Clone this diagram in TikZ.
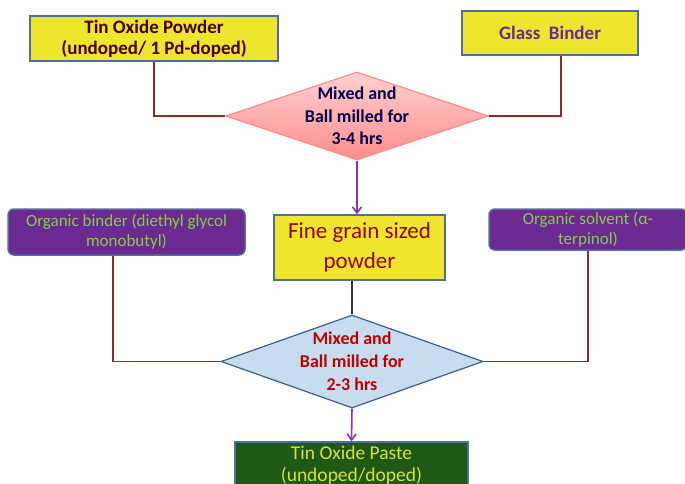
\documentclass[tikz,border=0pt]{standalone}
\usepackage{fontspec}
\setmainfont{Carlito}
\usetikzlibrary{shapes.geometric,arrows.meta}

\definecolor{boxyellow}{HTML}{EEE62C}
\definecolor{boxedge}{HTML}{4F6E9E}
\definecolor{linkred}{HTML}{8E2C2C}
\definecolor{arrowpurple}{HTML}{8A30C4}
\definecolor{orgpurple}{HTML}{6A2A92}
\definecolor{orggreen}{HTML}{86CC4C}
\definecolor{pastegreen}{HTML}{1E5A16}
\definecolor{pasteyellow}{HTML}{D8E040}
\definecolor{mixblue}{HTML}{C8DCF0}
\definecolor{mixblueedge}{HTML}{3C5F8E}

\tikzset{
  startbox/.style={draw=boxedge, line width=1.5pt, fill=boxyellow, rectangle, inner sep=0pt},
  orgbox/.style={draw=boxedge, line width=1.5pt, fill=orgpurple, rectangle, rounded corners=6pt,
    inner sep=0pt, text=orggreen, align=center, font=\fontsize{17}{20}\selectfont},
  millbox/.style={diamond, inner sep=0pt, line width=1.2pt},
  link/.style={draw=linkred, line width=1.6pt},
  flow/.style={draw=arrowpurple, line width=1.6pt, ->}
}

\begin{document}
\begin{tikzpicture}[x=1pt, y=-1pt, >={Straight Barb[length=6pt, width=9pt]}]
\clip (0,0) rectangle (685,484);

\node(Tin)[startbox, minimum width=248pt, minimum height=45pt, text=black!60!red!70!black,
  align=center, font=\bfseries\fontsize{19}{21}\selectfont] at (154,38.5)
  {Tin Oxide Powder\\(undoped/ 1 Pd-doped)};
\node(Glass)[startbox, minimum width=176pt, minimum height=44pt, text=orgpurple,
  font=\bfseries\fontsize{19}{20}\selectfont] at (550,33) {Glass\ \ Binder};

\node(MixA)[millbox, draw=red!45, top color=red!18, bottom color=red!45,
  minimum width=263pt, minimum height=88pt] at (357,116) {};
\node(MixAtxt)[align=center, text=blue!30!black, font=\bfseries\fontsize{18}{22.5}\selectfont]
  at (MixA) {Mixed and\\Ball milled for\\3-4 hrs};

\node(Grain)[startbox, minimum width=171pt, minimum height=65pt, text=red!60!black,
  align=center, font=\fontsize{23}{30}\selectfont] at (359.5,247.5) {Fine grain sized\\powder};

\node(Binder)[orgbox, minimum width=237pt, minimum height=46pt] at (126.5,232)
  {Organic binder (diethyl glycol\\monobutyl)};
\node(Solvent)[orgbox, minimum width=198pt, minimum height=41pt] at (588,229.5)
  {Organic solvent (α-\\terpinol)};

\node(MixB)[millbox, draw=mixblueedge, fill=mixblue,
  minimum width=262pt, minimum height=93pt] at (352,361.5) {};
\node(MixBtxt)[align=center, text=red!75!black, font=\bfseries\fontsize{18}{23}\selectfont]
  at (MixB) {Mixed and\\Ball milled for\\2-3 hrs};

\node(Paste)[draw=boxedge, line width=1.5pt, fill=pastegreen, rectangle, inner sep=0pt,
  minimum width=233pt, minimum height=46pt, text=pasteyellow, align=center,
  font=\fontsize{19.5}{22}\selectfont] at (351.5,465) {Tin Oxide Paste\\(undoped/doped)};

\draw[link] (Tin.south) |- (MixA.west);
\draw[link] (Glass.south -| 561,0) |- (MixA.east);
\draw[flow] (MixA.south) -- (MixA.south |- Grain.north);

\draw[draw=black!80!olive, line width=1.4pt] (MixB.north |- Grain.south) -- (MixB.north);
\draw[link] (Binder.south -| 113,0) |- (MixB.west);
\draw[link] (Solvent.south) |- (MixB.east);
\draw[flow] (MixB.south) -- (Paste.north);
\end{tikzpicture}
\end{document}
